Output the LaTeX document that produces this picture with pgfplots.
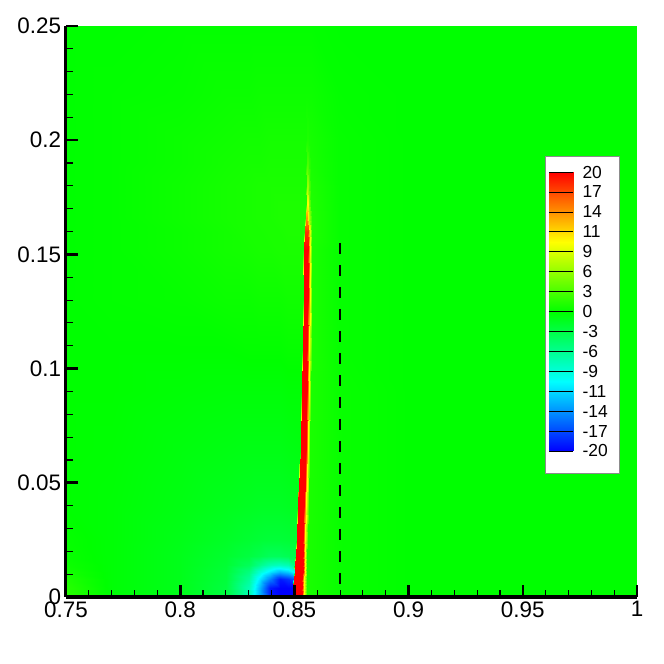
\documentclass[border=0pt]{standalone}
\usepackage{fontspec}
\setmainfont{Liberation Sans}
\usepackage{pgfplots}
\pgfplotsset{compat=1.18}
\pgfplotsset{colormap={tec}{rgb255(0cm)=(0,0,255); rgb255(1cm)=(0,255,255); rgb255(2cm)=(0,255,0); rgb255(3cm)=(255,255,0); rgb255(4cm)=(255,0,0)}}
\begin{document}
\begin{tikzpicture}
\begin{axis}[name=ax, scale only axis, width=571bp, height=571bp,
  xmin=0.75, xmax=1, ymin=0, ymax=0.25,
  axis x line=bottom, axis y line=left,
  axis line style={-, line width=3bp, black},
  axis on top,
  tick align=inside,
  xtick={0.75,0.8,0.85,0.9,0.95,1}, xticklabels={0.75,0.8,0.85,0.9,0.95,1},
  ytick={0,0.05,0.1,0.15,0.2,0.25}, yticklabels={0,0.05,0.1,0.15,0.2,0.25},
  minor x tick num=4, minor y tick num=4,
  major tick length=12bp, minor tick length=7bp,
  major tick style={line width=2.6bp, black},
  minor tick style={line width=1.1bp, black},
  ticklabel style={font=\fontsize{22.5}{24}\selectfont},
  yticklabel style={xshift=-1.5bp},
  xticklabel style={yshift=-1bp},
  colormap name=tec,
  point meta min=-20, point meta max=20,
]
\addplot[surf, shader=interp, mesh/cols=18, point meta=explicit] coordinates {
(0.75,0)[1.5] (0.77,0)[-0.2] (0.80,0)[-1] (0.82,0)[-2.5] (0.83,0)[-7] (0.835,0)[-13] (0.8395,0)[-19] (0.8437,0)[-20] (0.847,0)[-20] (0.8489,0)[-20] (0.8493,0)[20] (0.8534,0)[20] (0.8543,0)[10] (0.8553,0)[1] (0.87,0)[0.3] (0.9,0)[0] (0.95,0)[0] (1,0)[0]
(0.75,0.004)[1.5] (0.77,0.004)[-0.2] (0.80,0.004)[-1] (0.82,0.004)[-2.5] (0.83,0.004)[-7] (0.835,0.004)[-13] (0.8395,0.004)[-19] (0.8437,0.004)[-20] (0.847,0.004)[-20] (0.8492,0.004)[-20] (0.8496,0.004)[20] (0.8535,0.004)[20] (0.8544,0.004)[10] (0.8554,0.004)[1] (0.87,0.004)[0.3] (0.9,0.004)[0] (0.95,0.004)[0] (1,0.004)[0]
(0.75,0.008)[1.2] (0.77,0.008)[-0.2] (0.80,0.008)[-1] (0.82,0.008)[-2.3] (0.83,0.008)[-6] (0.835,0.008)[-11] (0.8395,0.008)[-15] (0.8437,0.008)[-19] (0.847,0.008)[-18] (0.8495,0.008)[-17] (0.8499,0.008)[20] (0.8535,0.008)[20] (0.8544,0.008)[10] (0.8554,0.008)[1] (0.87,0.008)[0.3] (0.9,0.008)[0] (0.95,0.008)[0] (1,0.008)[0]
(0.75,0.011)[0.8] (0.77,0.011)[-0.2] (0.80,0.011)[-1] (0.82,0.011)[-2.2] (0.83,0.011)[-5] (0.835,0.011)[-8.5] (0.8395,0.011)[-11] (0.8437,0.011)[-13] (0.847,0.011)[-12] (0.8497,0.011)[-10] (0.8501,0.011)[20] (0.8536,0.011)[20] (0.8545,0.011)[10] (0.8555,0.011)[1] (0.87,0.011)[0.3] (0.9,0.011)[0] (0.95,0.011)[0] (1,0.011)[0]
(0.75,0.014)[0.5] (0.77,0.014)[-0.2] (0.80,0.014)[-1] (0.82,0.014)[-2] (0.83,0.014)[-3.5] (0.835,0.014)[-5.5] (0.8395,0.014)[-7] (0.8437,0.014)[-7.5] (0.847,0.014)[-7] (0.8499,0.014)[-5] (0.8503,0.014)[20] (0.8536,0.014)[20] (0.8545,0.014)[10] (0.8555,0.014)[1] (0.87,0.014)[0.3] (0.9,0.014)[0] (0.95,0.014)[0] (1,0.014)[0]
(0.75,0.018)[0.3] (0.77,0.018)[-0.2] (0.80,0.018)[-1] (0.82,0.018)[-1.8] (0.83,0.018)[-2.5] (0.835,0.018)[-3] (0.8395,0.018)[-3.5] (0.8437,0.018)[-3.5] (0.847,0.018)[-3.2] (0.8502,0.018)[-3] (0.8506,0.018)[20] (0.8537,0.018)[20] (0.8546,0.018)[10] (0.8556,0.018)[1] (0.87,0.018)[0.3] (0.9,0.018)[0] (0.95,0.018)[0] (1,0.018)[0]
(0.75,0.025)[0.2] (0.77,0.025)[-0.2] (0.80,0.025)[-0.9] (0.82,0.025)[-1.5] (0.83,0.025)[-1.9] (0.835,0.025)[-2.1] (0.8395,0.025)[-2.2] (0.8437,0.025)[-2.2] (0.847,0.025)[-2.1] (0.8506,0.025)[-2] (0.8510,0.025)[20] (0.8539,0.025)[20] (0.8548,0.025)[10] (0.8558,0.025)[1] (0.87,0.025)[0.3] (0.9,0.025)[0] (0.95,0.025)[0] (1,0.025)[0]
(0.75,0.04)[0] (0.77,0.04)[-0.2] (0.80,0.04)[-0.7] (0.82,0.04)[-1.1] (0.83,0.04)[-1.3] (0.835,0.04)[-1.4] (0.8395,0.04)[-1.4] (0.8437,0.04)[-1.4] (0.847,0.04)[-1.3] (0.8513,0.04)[-1.2] (0.8517,0.04)[20] (0.8543,0.04)[20] (0.8552,0.04)[10] (0.8562,0.04)[1] (0.87,0.04)[0.3] (0.9,0.04)[0] (0.95,0.04)[0] (1,0.04)[0]
(0.75,0.065)[0] (0.77,0.065)[-0.1] (0.80,0.065)[-0.5] (0.82,0.065)[-0.7] (0.83,0.065)[-0.8] (0.835,0.065)[-0.8] (0.8395,0.065)[-0.8] (0.8437,0.065)[-0.8] (0.847,0.065)[-0.7] (0.8525,0.065)[-0.6] (0.8529,0.065)[20] (0.8550,0.065)[20] (0.8559,0.065)[10] (0.8569,0.065)[1] (0.87,0.065)[0.3] (0.9,0.065)[0] (0.95,0.065)[0] (1,0.065)[0]
(0.75,0.09)[0] (0.77,0.09)[0] (0.80,0.09)[-0.2] (0.82,0.09)[-0.3] (0.83,0.09)[-0.3] (0.835,0.09)[-0.3] (0.8395,0.09)[-0.3] (0.8437,0.09)[-0.3] (0.847,0.09)[-0.2] (0.8529,0.09)[-0.2] (0.8533,0.09)[20] (0.8553,0.09)[20] (0.8562,0.09)[10] (0.8572,0.09)[1] (0.87,0.09)[0.3] (0.9,0.09)[0] (0.95,0.09)[0] (1,0.09)[0]
(0.75,0.108)[0] (0.77,0.108)[0] (0.80,0.108)[0] (0.82,0.108)[0] (0.83,0.108)[0.1] (0.835,0.108)[0.1] (0.8395,0.108)[0.1] (0.8437,0.108)[0.1] (0.847,0.108)[0.2] (0.8532,0.108)[0.2] (0.8536,0.108)[20] (0.8556,0.108)[20] (0.8565,0.108)[10] (0.8575,0.108)[1] (0.87,0.108)[0.2] (0.9,0.108)[0] (0.95,0.108)[0] (1,0.108)[0]
(0.75,0.13)[0] (0.77,0.13)[0.1] (0.80,0.13)[0.2] (0.82,0.13)[0.4] (0.83,0.13)[0.4] (0.835,0.13)[0.5] (0.8395,0.13)[0.5] (0.8437,0.13)[0.5] (0.847,0.13)[0.6] (0.8536,0.13)[0.6] (0.8540,0.13)[20] (0.8558,0.13)[20] (0.8567,0.13)[10] (0.8577,0.13)[1] (0.87,0.13)[0.2] (0.9,0.13)[0] (0.95,0.13)[0] (1,0.13)[0]
(0.75,0.152)[0] (0.77,0.152)[0.1] (0.80,0.152)[0.4] (0.82,0.152)[0.7] (0.83,0.152)[0.8] (0.835,0.152)[0.9] (0.8395,0.152)[0.9] (0.8437,0.152)[1] (0.847,0.152)[1] (0.8539,0.152)[1] (0.8543,0.152)[20] (0.8559,0.152)[20] (0.8568,0.152)[10] (0.8578,0.152)[1] (0.87,0.152)[0.2] (0.9,0.152)[0] (0.95,0.152)[0] (1,0.152)[0]
(0.75,0.16)[0] (0.77,0.16)[0.1] (0.80,0.16)[0.4] (0.82,0.16)[0.7] (0.83,0.16)[0.9] (0.835,0.16)[0.9] (0.8395,0.16)[1] (0.8437,0.16)[1] (0.847,0.16)[1.1] (0.8544,0.16)[1.1] (0.8548,0.16)[18] (0.8558,0.16)[18] (0.8567,0.16)[9] (0.8577,0.16)[1.2] (0.87,0.16)[0.2] (0.9,0.16)[0] (0.95,0.16)[0] (1,0.16)[0]
(0.75,0.166)[0] (0.77,0.166)[0.1] (0.80,0.166)[0.5] (0.82,0.166)[0.8] (0.83,0.166)[0.9] (0.835,0.166)[1] (0.8395,0.166)[1] (0.8437,0.166)[1.1] (0.847,0.166)[1.1] (0.8547,0.166)[1.1] (0.8551,0.166)[14] (0.8557,0.166)[14] (0.8566,0.166)[7] (0.8576,0.166)[1.2] (0.87,0.166)[0.2] (0.9,0.166)[0] (0.95,0.166)[0] (1,0.166)[0]
(0.75,0.172)[0] (0.77,0.172)[0.1] (0.80,0.172)[0.5] (0.82,0.172)[0.8] (0.83,0.172)[0.9] (0.835,0.172)[1] (0.8395,0.172)[1] (0.8437,0.172)[1.1] (0.847,0.172)[1.1] (0.8550,0.172)[1.1] (0.8555,0.172)[10] (0.8559,0.172)[10] (0.8563,0.172)[5] (0.8571,0.172)[1.2] (0.87,0.172)[0.2] (0.9,0.172)[0] (0.95,0.172)[0] (1,0.172)[0]
(0.75,0.18)[0] (0.77,0.18)[0.1] (0.80,0.18)[0.5] (0.82,0.18)[0.8] (0.83,0.18)[0.9] (0.835,0.18)[1] (0.8395,0.18)[1] (0.8437,0.18)[1] (0.847,0.18)[1] (0.8551,0.18)[1] (0.8556,0.18)[6] (0.8560,0.18)[6] (0.8564,0.18)[3.5] (0.8572,0.18)[1.1] (0.87,0.18)[0.2] (0.9,0.18)[0] (0.95,0.18)[0] (1,0.18)[0]
(0.75,0.19)[0] (0.77,0.19)[0.1] (0.80,0.19)[0.4] (0.82,0.19)[0.7] (0.83,0.19)[0.8] (0.835,0.19)[0.8] (0.8395,0.19)[0.9] (0.8437,0.19)[0.9] (0.847,0.19)[0.9] (0.8552,0.19)[0.9] (0.8557,0.19)[2.8] (0.8561,0.19)[2.8] (0.8565,0.19)[1.8] (0.8573,0.19)[0.9] (0.87,0.19)[0.2] (0.9,0.19)[0] (0.95,0.19)[0] (1,0.19)[0]
(0.75,0.2)[0] (0.77,0.2)[0.1] (0.80,0.2)[0.4] (0.82,0.2)[0.6] (0.83,0.2)[0.7] (0.835,0.2)[0.7] (0.8395,0.2)[0.8] (0.8437,0.2)[0.8] (0.847,0.2)[0.8] (0.8552,0.2)[0.8] (0.8557,0.2)[1.1] (0.8561,0.2)[1.1] (0.8565,0.2)[0.9] (0.8573,0.2)[0.8] (0.87,0.2)[0.2] (0.9,0.2)[0] (0.95,0.2)[0] (1,0.2)[0]
(0.75,0.22)[0] (0.77,0.22)[0.1] (0.80,0.22)[0.2] (0.82,0.22)[0.4] (0.83,0.22)[0.4] (0.835,0.22)[0.5] (0.8395,0.22)[0.5] (0.8437,0.22)[0.5] (0.847,0.22)[0.5] (0.8552,0.22)[0.5] (0.8557,0.22)[0.5] (0.8561,0.22)[0.5] (0.8565,0.22)[0.5] (0.8573,0.22)[0.5] (0.87,0.22)[0.1] (0.9,0.22)[0] (0.95,0.22)[0] (1,0.22)[0]
(0.75,0.25)[0] (0.77,0.25)[0] (0.80,0.25)[0.1] (0.82,0.25)[0.1] (0.83,0.25)[0.1] (0.835,0.25)[0.1] (0.8395,0.25)[0.1] (0.8437,0.25)[0.1] (0.847,0.25)[0.1] (0.8552,0.25)[0.1] (0.8557,0.25)[0.1] (0.8561,0.25)[0.1] (0.8565,0.25)[0.1] (0.8573,0.25)[0.1] (0.87,0.25)[0] (0.9,0.25)[0] (0.95,0.25)[0] (1,0.25)[0]
};
\addplot[black, line width=1.4bp, dash pattern=on 11.5bp off 10.5bp] coordinates {(0.87,0.155) (0.87,0)};
\draw[draw=black!45, fill=white, line width=0.8bp] (rel axis cs:0.8389,0.2172) rectangle (rel axis cs:0.9685,0.7723);
\end{axis}
\begin{axis}[at={(ax.south west)}, anchor=south west, xshift=483bp, yshift=146bp,
  scale only axis, width=24bp, height=279bp,
  xmin=0, xmax=1, ymin=-20, ymax=20,
  axis on top,
  xtick=\empty,
  ytick={-20,-17.142857,-14.285714,-11.428571,-8.571429,-5.714286,-2.857143,0,2.857143,5.714286,8.571429,11.428571,14.285714,17.142857,20},
  yticklabels={-20,-17,-14,-11,-9,-6,-3,0,3,6,9,11,14,17,20},
  yticklabel pos=right,
  major tick length=0pt, ytick style={draw=none},
  ymajorgrids, major grid style={black, line width=0.6bp},
  yticklabel style={font=\fontsize{17.5}{19}\selectfont, anchor=west, xshift=6bp},
  axis line style={draw=none},
  colormap name=tec, point meta min=-20, point meta max=20,
]
\addplot[surf, shader=interp, mesh/cols=2, point meta=explicit] coordinates {
(0,-20)[-20] (1,-20)[-20]
(0,0)[0] (1,0)[0]
(0,20)[20] (1,20)[20]
};
\end{axis}
\path ([shift={(-66bp,-67bp)}]ax.south west) rectangle ([shift={(27bp,26bp)}]ax.north east);
\end{tikzpicture}
\end{document}
